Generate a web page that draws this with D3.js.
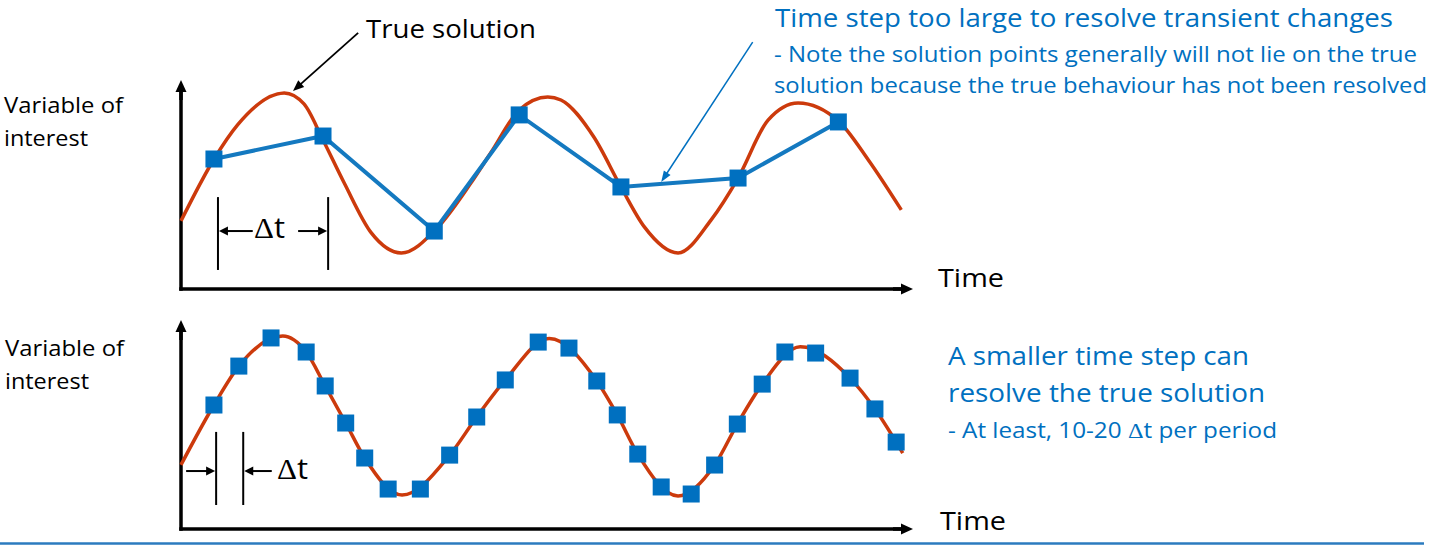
<!DOCTYPE html>
<html>
<head>
<meta charset="utf-8">
<script src="https://cdn.jsdelivr.net/npm/d3@7"></script>
<style>
  body { margin: 0; background: #fff; }
  svg { display: block; }
</style>
</head>
<body>
<div id="chart"></div>
<script>
// top panel: true solution (red) and coarse time-step solution (blue)
const topTrueT = [0, 4.6, 7.7, 14.1, 16.8, 19.4, 22.3, 26.0, 30.1, 35.0, 39.6, 42.3, 46.2, 50.1, 51.9, 56.4, 60.1, 63.3, 67.9, 72.4, 76.1, 80.2, 84.3, 89.8, 93.9, 98.4];
const topTrueV = [32.9, 63.3, 79.2, 94.7, 89.4, 72.0, 51.2, 27.1, 17.4, 29.5, 51.2, 65.7, 86.5, 92.8, 91.3, 73.4, 49.3, 30.0, 17.4, 33.3, 53.6, 81.6, 89.9, 81.2, 62.3, 38.2];
const topStepT = [4.5, 19.4, 34.6, 46.2, 60.1, 76.1, 89.8];
const topStepV = [62.8, 73.9, 28.0, 84.1, 49.3, 53.6, 80.7];

// bottom panel: true solution and fine time-step solution
const botTrueT = [0, 4.5, 7.9, 13.9, 17.1, 19.7, 22.5, 25.1, 30.2, 36.7, 40.4, 44.3, 50.3, 56.8, 59.6, 62.4, 67.9, 72.9, 76.0, 79.4, 84.6, 91.4, 94.8, 98.6];
const botTrueV = [31.0, 59.9, 78.7, 93.2, 85.5, 69.1, 51.2, 34.3, 16.4, 35.7, 54.1, 72.0, 92.0, 71.5, 55.1, 36.2, 15.9, 30.9, 50.7, 70.0, 88.0, 72.9, 58.0, 36.7];
const botStepT = [4.5, 7.9, 12.3, 17.1, 19.7, 22.5, 25.1, 28.3, 32.7, 36.7, 40.4, 44.3, 48.8, 53.0, 56.8, 59.6, 62.4, 65.6, 69.7, 72.9, 76.0, 79.4, 82.5, 86.7, 91.4, 94.8, 97.7];
const botStepV = [59.9, 78.7, 92.3, 85.5, 69.1, 51.2, 34.3, 19.3, 19.3, 35.7, 54.1, 72.0, 90.3, 87.4, 71.5, 55.1, 36.2, 20.3, 16.9, 30.9, 50.7, 70.0, 85.5, 85.0, 72.9, 58.0, 42.0];

const W = 1442, H = 545;
const RED = "#cc3a0c", BLUE = "#0070c0", LINEBLUE = "#1479c0";
const FONT = "'Open Sans', 'Noto Sans', sans-serif";
const SERIF = "'Liberation Serif', 'DejaVu Serif', serif";

const svg = d3.select("#chart").append("svg").attr("width", W).attr("height", H);

const x = d3.scaleLinear().domain([0, 100]).range([181, 913]);
const yTop = d3.scaleLinear().domain([0, 100]).range([289, 82]);
const yBot = d3.scaleLinear().domain([0, 100]).range([529, 322]);

const zip = (a, b) => a.map((d, i) => [d, b[i]]);

function arrow(g, x1, y1, x2, y2, color, width, len, half) {
  const dx = x2 - x1, dy = y2 - y1, L = Math.hypot(dx, dy);
  const ux = dx / L, uy = dy / L;
  const bx = x2 - ux * len, by = y2 - uy * len;
  g.append("line")
    .attr("x1", x1).attr("y1", y1)
    .attr("x2", bx + ux * 1.5).attr("y2", by + uy * 1.5)
    .attr("stroke", color).attr("stroke-width", width);
  g.append("path")
    .attr("d", `M${x2},${y2}L${bx - uy * half},${by + ux * half}L${bx + uy * half},${by - ux * half}Z`)
    .attr("fill", color);
}

// text with the delta sign set in a serif face, like the slide
function label(txt, px, py, size, width, color) {
  const t = svg.append("text")
    .attr("x", px).attr("y", py)
    .attr("font-family", FONT)
    .attr("font-size", size)
    .attr("textLength", width)
    .attr("lengthAdjust", "spacingAndGlyphs")
    .attr("fill", color);
  txt.split(/(\u0394)/).filter(p => p.length).forEach(p => {
    const sp = t.append("tspan").text(p);
    if (p === "\u0394") sp.attr("font-family", SERIF);
  });
}

function panel(y, trueT, trueV, stepT, stepV, joinSteps) {
  const g = svg.append("g");

  // axes with arrow heads
  const x0 = x(0), y0 = y(0), tipY = y(100) - 2, tipX = x(100);
  g.append("line").attr("x1", x0).attr("y1", y0 + 1.75).attr("x2", x0).attr("y2", tipY + 8)
    .attr("stroke", "#000").attr("stroke-width", 3.5);
  g.append("line").attr("x1", x0 - 1.75).attr("y1", y0).attr("x2", tipX - 8).attr("y2", y0)
    .attr("stroke", "#000").attr("stroke-width", 3.5);
  arrow(g, x0, tipY + 20, x0, tipY, "#000", 3.5, 12, 5.5);
  arrow(g, tipX - 20, y0, tipX, y0, "#000", 3.5, 12, 5.5);

  const line = d3.line().x(d => x(d[0])).y(d => y(d[1]));

  g.append("path")
    .datum(zip(trueT, trueV))
    .attr("d", line.curve(d3.curveMonotoneX))
    .attr("fill", "none")
    .attr("stroke", RED)
    .attr("stroke-width", 3.5);

  const steps = zip(stepT, stepV);
  if (joinSteps) {
    g.append("path")
      .datum(steps)
      .attr("d", d3.line().x(d => x(d[0])).y(d => y(d[1])))
      .attr("fill", "none")
      .attr("stroke", LINEBLUE)
      .attr("stroke-width", 4);
  }

  const s = 17;
  g.selectAll("rect.step")
    .data(steps)
    .enter()
    .append("rect")
    .attr("class", "step")
    .attr("x", d => x(d[0]) - s / 2)
    .attr("y", d => y(d[1]) - s / 2)
    .attr("width", s)
    .attr("height", s)
    .attr("fill", BLUE);

  return g;
}

const gTop = panel(yTop, topTrueT, topTrueV, topStepT, topStepV, true);
const gBot = panel(yBot, botTrueT, botTrueV, botStepT, botStepV, false);

// delta t markers
function tick(g, y, t, v1, v2) {
  g.append("line")
    .attr("x1", x(t)).attr("x2", x(t))
    .attr("y1", y(v1)).attr("y2", y(v2))
    .attr("stroke", "#000").attr("stroke-width", 2);
}
tick(gTop, yTop, 5.05, 44.4, 9.2);
tick(gTop, yTop, 20.1, 44.4, 9.2);
arrow(gTop, x(9.8), yTop(28), x(5.05) + 1, yTop(28), "#000", 2, 9, 4.5);
arrow(gTop, x(16.0), yTop(28), x(20.1) - 1, yTop(28), "#000", 2, 9, 4.5);

tick(gBot, yBot, 4.8, 46.9, 11.6);
tick(gBot, yBot, 8.5, 46.9, 11.6);
arrow(gBot, x(0.7), yBot(28), x(4.8) - 1, yBot(28), "#000", 2, 9, 4.5);
arrow(gBot, x(12.4), yBot(28), x(8.5) + 1, yBot(28), "#000", 2, 9, 4.5);

// callout arrows
arrow(svg, x(24.2), yTop(123.7), x(15.3), yTop(95.7), "#000", 1.8, 11, 4.5);
arrow(svg, x(78.1), yTop(119.3), x(65.6), yTop(51.7), BLUE, 1.5, 11, 4);

// labels
label("True solution", 366, 38, 26, 170, "#000");
label("Time", 938, 287, 26, 66, "#000");
label("Time", 940, 530, 26, 66, "#000");
label("Variable of", 4, 113, 21, 119, "#000");
label("interest", 4, 146, 21, 84, "#000");
label("Variable of", 5, 356, 21, 119, "#000");
label("interest", 5, 389, 21, 84, "#000");
label("\u0394t", 254, 238, 29, 31, "#000");
label("\u0394t", 277, 479, 29, 31, "#000");

label("Time step too large to resolve transient changes", 775, 27, 25, 618, BLUE);
label("- Note the solution points generally will not lie on the true", 774, 62, 22, 643, BLUE);
label("solution because the true behaviour has not been resolved", 774, 93, 22, 653, BLUE);

label("A smaller time step can", 948, 365, 25, 301, BLUE);
label("resolve the true solution", 948, 402, 25, 317, BLUE);
label("- At least, 10-20 \u0394t per period", 948, 438, 21, 329, BLUE);

// slide rule at the bottom
svg.append("line")
  .attr("x1", 0).attr("x2", 1424)
  .attr("y1", 543.5).attr("y2", 543.5)
  .attr("stroke", "#2b7bbf").attr("stroke-width", 2.5);
</script>
</body>
</html>
